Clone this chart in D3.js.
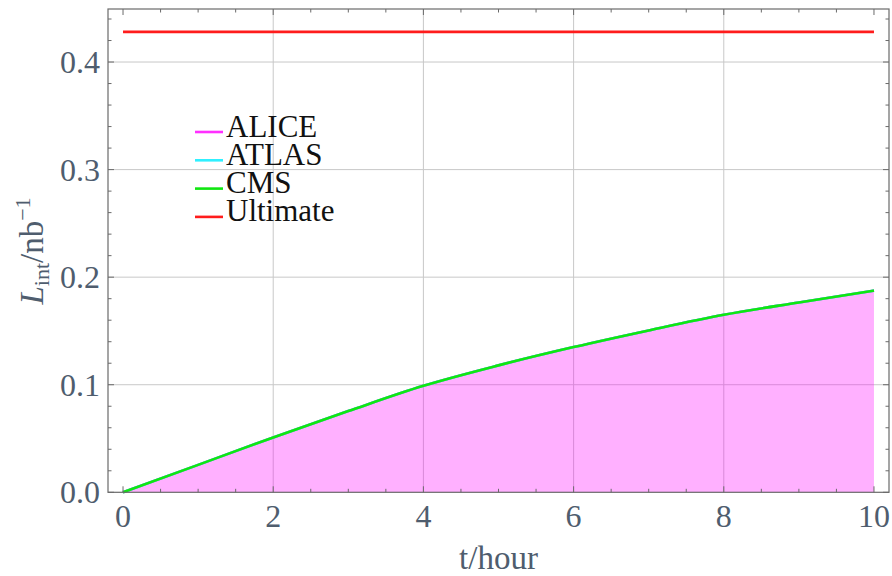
<!DOCTYPE html>
<html><head><meta charset="utf-8">
<script src="https://cdn.jsdelivr.net/npm/d3@7"></script>
<style>body{margin:0;background:#fff}</style>
</head><body><svg id="c" width="892" height="576"></svg>
<script>
// ---- data ----
const hours = [0, 1, 2, 3, 4, 5, 6, 7, 8, 9, 10];
const aliceLumi = [0, 0.0255, 0.051, 0.0755, 0.099, 0.118, 0.135, 0.1505, 0.165, 0.1765, 0.1875];
const atlasLumi = [0, 0.0255, 0.051, 0.0755, 0.099, 0.118, 0.135, 0.1505, 0.165, 0.1765, 0.1875];
const cmsLumi   = [0, 0.0255, 0.051, 0.0755, 0.099, 0.118, 0.135, 0.1505, 0.165, 0.1765, 0.1875];
const ultimateLumi = [0.428, 0.428, 0.428, 0.428, 0.428, 0.428, 0.428, 0.428, 0.428, 0.428, 0.428];
const seriesNames = ["ALICE", "ATLAS", "CMS", "Ultimate"];
const xTickLabels = [0, 2, 4, 6, 8, 10];
const yTickLabels = [0.0, 0.1, 0.2, 0.3, 0.4];
const xGrid = [2, 4, 6, 8];
const yGrid = [0.1, 0.2, 0.3, 0.4];

// ---- layout ----
const svg = d3.select("#c");
const L = 108, R = 889, T = 9, B = 492.3;
const x = d3.scaleLinear().domain([-0.2, 10.2]).range([L, R]);
const y = d3.scaleLinear().domain([0, 0.4493]).range([B, T]);
const serif = "'Liberation Serif','Times New Roman',serif";
const tickColor = "#4f5d6e";
const frameColor = "#6a6a6a";
const colors = {ALICE: "#ff30ff", ATLAS: "#30f0ff", CMS: "#10e610", Ultimate: "#ff1c1c"};

// gridlines
const g = svg.append("g");
g.selectAll(".gx").data(xGrid).join("line")
  .attr("x1", d => x(d)).attr("x2", d => x(d)).attr("y1", T).attr("y2", B)
  .attr("stroke", "#c8c8c8").attr("stroke-width", 1);
g.selectAll(".gy").data(yGrid).join("line")
  .attr("x1", L).attr("x2", R).attr("y1", d => y(d)).attr("y2", d => y(d))
  .attr("stroke", "#c8c8c8").attr("stroke-width", 1);

const pts = arr => hours.map((h, i) => [h, arr[i]]);

// fill under ALICE
const area = d3.area().x(d => x(d[0])).y0(y(0)).y1(d => y(d[1])).curve(d3.curveMonotoneX);
svg.append("path").datum(pts(aliceLumi)).attr("d", area)
  .attr("fill", "#ff00ff").attr("fill-opacity", 0.31);

const line = d3.line().x(d => x(d[0])).y(d => y(d[1])).curve(d3.curveMonotoneX);
[["ALICE", aliceLumi], ["ATLAS", atlasLumi], ["CMS", cmsLumi], ["Ultimate", ultimateLumi]].forEach(([n, arr]) => {
  svg.append("path").datum(pts(arr)).attr("d", line)
    .attr("fill", "none").attr("stroke", colors[n]).attr("stroke-width", 2.6);
});

// frame
svg.append("rect").attr("x", L).attr("y", T).attr("width", R - L).attr("height", B - T)
  .attr("fill", "none").attr("stroke", frameColor).attr("stroke-width", 1.2);

// ticks
const xMinor = d3.range(0, 10.001, 0.5);
const yMinor = d3.range(0, 0.441, 0.02);
const isMajX = v => Math.abs(v / 2 - Math.round(v / 2)) < 1e-6;
const isMajY = v => Math.abs(v * 10 - Math.round(v * 10)) < 1e-6;
const tk = svg.append("g").attr("stroke", frameColor).attr("stroke-width", 1);
xMinor.forEach(v => {
  const len = isMajX(v) ? 6 : 3.5;
  tk.append("line").attr("x1", x(v)).attr("x2", x(v)).attr("y1", B).attr("y2", B - len);
  tk.append("line").attr("x1", x(v)).attr("x2", x(v)).attr("y1", T).attr("y2", T + len);
});
yMinor.forEach(v => {
  const len = isMajY(v) ? 6 : 3.5;
  tk.append("line").attr("x1", L).attr("x2", L + len).attr("y1", y(v)).attr("y2", y(v));
  tk.append("line").attr("x1", R).attr("x2", R - len).attr("y1", y(v)).attr("y2", y(v));
});

// tick labels
svg.selectAll(".xl").data(xTickLabels).join("text")
  .attr("x", d => x(d)).attr("y", 527).attr("text-anchor", "middle")
  .attr("font-family", serif).attr("font-size", 32).attr("fill", tickColor)
  .text(d => d);
svg.selectAll(".yl").data(yTickLabels).join("text")
  .attr("x", 100).attr("y", d => y(d) + 11).attr("text-anchor", "end")
  .attr("font-family", serif).attr("font-size", 32).attr("fill", tickColor)
  .text(d => d.toFixed(1));

// axis titles
svg.append("text").attr("x", (L + R) / 2).attr("y", 569).attr("text-anchor", "middle")
  .attr("font-family", serif).attr("font-size", 33).attr("fill", tickColor).text("t/hour");

const yt = svg.append("text").attr("transform", "translate(43,251) rotate(-90)")
  .attr("text-anchor", "middle").attr("font-family", serif).attr("font-size", 33).attr("fill", tickColor);
yt.append("tspan").attr("font-style", "italic").text("L");
yt.append("tspan").attr("font-size", 22).attr("dy", 6).text("int");
yt.append("tspan").attr("dy", -6).text("/nb");
yt.append("tspan").attr("font-size", 22).attr("dy", -13).text("\u22121");

// legend
const lg = svg.append("g");
seriesNames.forEach((n, i) => {
  const ly = 132 + i * 28.3;
  lg.append("line").attr("x1", 195).attr("x2", 223).attr("y1", ly).attr("y2", ly)
    .attr("stroke", colors[n]).attr("stroke-width", 2.6);
  lg.append("text").attr("x", 226).attr("y", ly + 4.5)
    .attr("font-family", serif).attr("font-size", 31).attr("fill", "#111").text(n);
});
</script></body></html>
